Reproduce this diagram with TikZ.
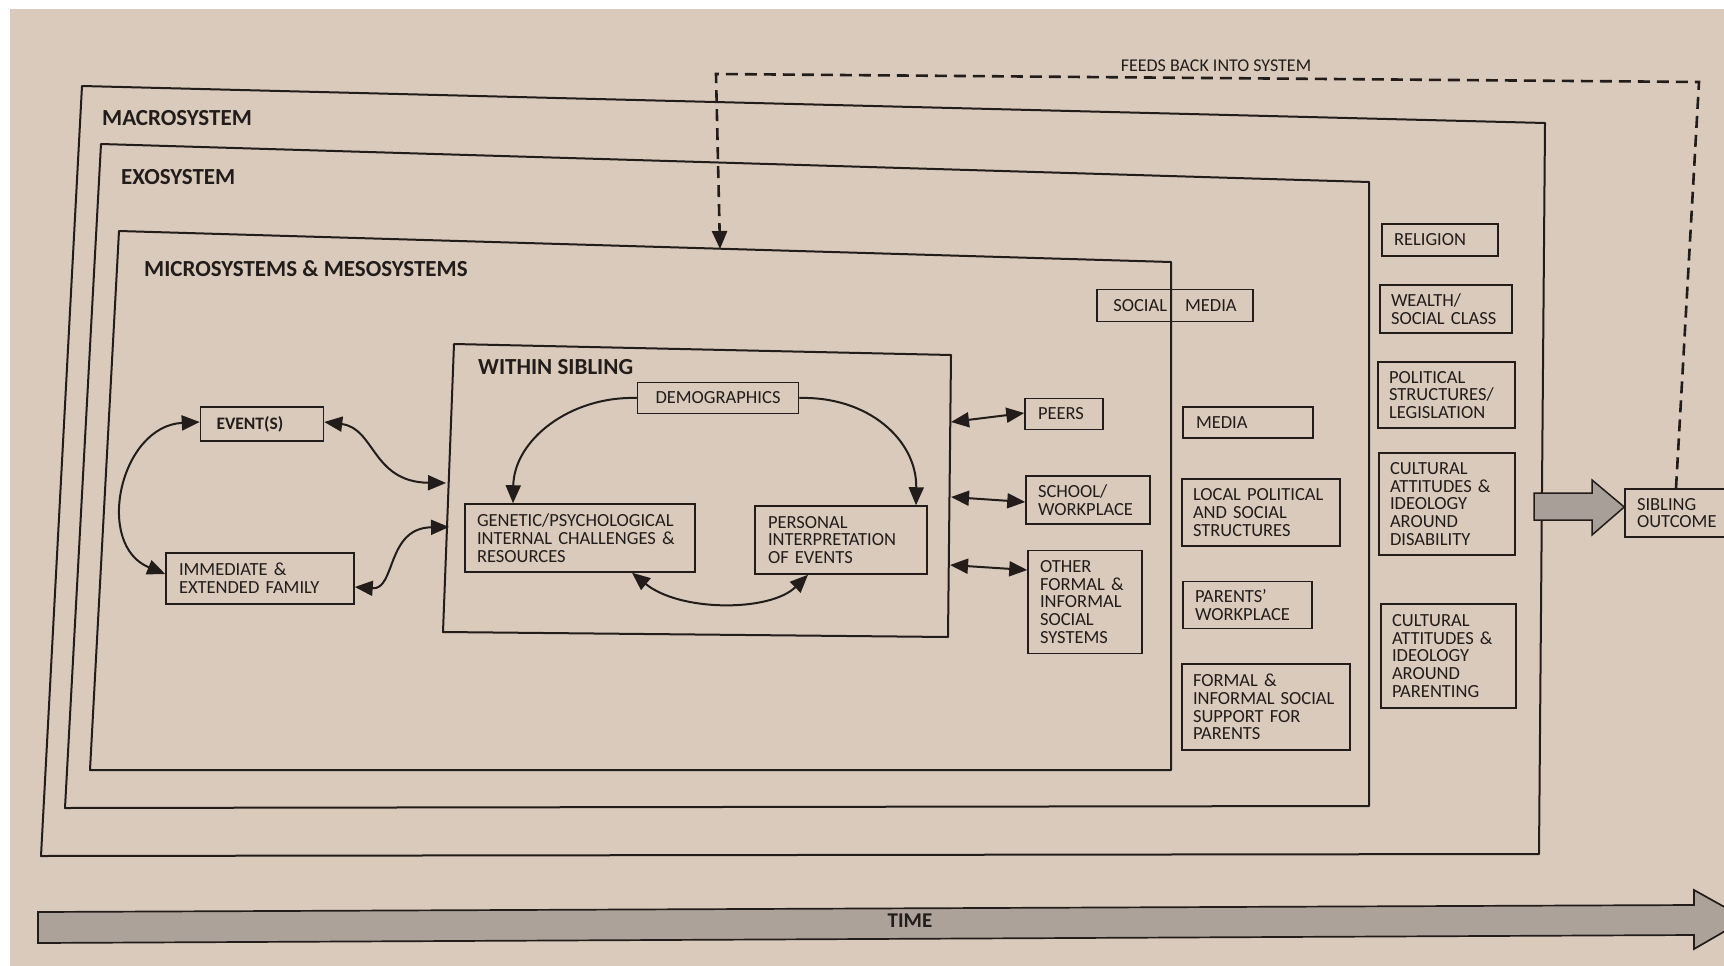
\documentclass[tikz,border=0pt]{standalone}
\usepackage{fontspec}
\setmainfont{Carlito}
\usetikzlibrary{arrows.meta}
\definecolor{bg}{RGB}{217,202,188}
\definecolor{ink}{RGB}{34,28,26}
\definecolor{blockgray}{RGB}{168,159,152}
\definecolor{timegray}{RGB}{172,162,154}
\begin{document}
\begin{tikzpicture}[x=1pt,y=-1pt,
  frame/.style={draw=ink, line width=2pt, line join=round},
  bx/.style={draw=ink, line width=1.5pt, align=left, inner xsep=12pt, inner ysep=2pt,
    font=\fontsize{18.5}{17.8}\selectfont, text=ink},
  lbl/.style={font=\bfseries\fontsize{23}{25}\selectfont, text=ink, anchor=west, inner sep=0pt},
  arr/.style={draw=ink, line width=2pt, {Triangle[length=18pt,width=15pt]}-{Triangle[length=18pt,width=15pt]}},
  arrone/.style={draw=ink, line width=2pt, -{Triangle[length=18pt,width=15pt]}},
  feedback/.style={draw=ink, line width=2.6pt, dash pattern=on 12pt off 7pt, -{Triangle[length=18pt,width=15pt]}}
]
\useasboundingbox (0,0) rectangle (1724,966);
\clip (0,0) rectangle (1724,966);
\fill[bg] (0,0) rectangle (1724,966);
\fill[white] (0,0) rectangle (10,966);
\fill[white] (0,0) rectangle (1724,9);

% system frames
\draw[frame] (82,86) -- (1545,123) -- (1539,854) -- (41,856) -- cycle;
\draw[frame] (101,144) -- (1369,182) -- (1369,806) -- (65,808) -- cycle;
\draw[frame] (119,231) -- (1171,262) -- (1171,770) -- (90,770) -- cycle;
\draw[frame] (454,344) -- (951,355) -- (948,637) -- (443,632) -- cycle;

\node[lbl] (macro) at (102,118) {MACROSYSTEM};
\node[lbl] (exo) at (121,177) {EXOSYSTEM};
\node[lbl] (micro) at (144,269) {MICROSYSTEMS \& MESOSYSTEMS};
\node[lbl] (within) at (478,367) {WITHIN SIBLING};

% frame anchor points
\coordinate (wsL1) at (446,483);
\coordinate (wsL2) at (449,527);
\coordinate (wsR1) at (951,422);
\coordinate (wsR2) at (951,497);
\coordinate (wsR3) at (950,565);
\coordinate (microTop) at (720,249);
\coordinate (fbA) at (1699,82);
\coordinate (fbB) at (716,74);

% boxes: microsystem left
\node[bx, text width=91pt, inner xsep=16pt, minimum height=34pt, font=\bfseries\fontsize{17.5}{17.8}\selectfont] (ev) at (262,424) {EVENT(S)};
\node[bx, text width=162pt, inner xsep=13pt, minimum height=51pt] (fam) at (260,578.5) {IMMEDIATE \&\\EXTENDED FAMILY};

% within sibling
\node[bx, align=center, minimum width=161pt, minimum height=31pt] (demo) at (718,398) {DEMOGRAPHICS};
\node[bx, text width=206pt, minimum height=68pt] (gen) at (580,538) {GENETIC/PSYCHOLOGICAL\\INTERNAL CHALLENGES \&\\RESOURCES};
\node[bx, text width=146pt, inner xsep=13pt, minimum height=68pt] (pers) at (841,540) {PERSONAL\\INTERPRETATION\\OF EVENTS};

% microsystem right
\node[bx, align=center, minimum width=156pt, minimum height=32pt] (sm) at (1175,305.5) {SOCIAL\hspace{18pt}MEDIA};
\node[bx, text width=52pt, inner xsep=13pt, minimum height=31pt] (peers) at (1064,414) {PEERS};
\node[bx, text width=100pt, minimum height=48pt] (school) at (1088,500) {SCHOOL/\\WORKPLACE};
\node[bx, text width=90pt, minimum height=103pt] (other) at (1085,602) {OTHER\\FORMAL \&\\INFORMAL\\SOCIAL\\SYSTEMS};

% exosystem
\node[bx, text width=104pt, inner xsep=13pt, minimum height=31pt] (media) at (1248,422.5) {MEDIA};
\node[bx, text width=136pt, inner xsep=11pt, minimum height=67pt] (local) at (1261,512.5) {LOCAL POLITICAL\\AND SOCIAL\\STRUCTURES};
\node[bx, text width=105pt, minimum height=47pt] (pwork) at (1247.5,605) {PARENTS’\\WORKPLACE};
\node[bx, text width=146pt, inner xsep=11pt, minimum height=86pt] (fsup) at (1266,707) {FORMAL \&\\INFORMAL SOCIAL\\SUPPORT FOR\\PARENTS};

% macrosystem
\node[bx, text width=92pt, minimum height=32pt] (rel) at (1440,240) {RELIGION};
\node[bx, text width=110pt, inner xsep=11pt, minimum height=48pt] (wealth) at (1446,309) {WEALTH/\\SOCIAL CLASS};
\node[bx, text width=115pt, inner xsep=11pt, minimum height=66pt] (pol) at (1446.5,395) {POLITICAL\\STRUCTURES/\\LEGISLATION};
\node[bx, text width=114pt, inner xsep=11pt, minimum height=102pt] (cdis) at (1447,504) {CULTURAL\\ATTITUDES \&\\IDEOLOGY\\AROUND\\DISABILITY};
\node[bx, text width=113pt, inner xsep=11pt, minimum height=104pt] (cpar) at (1448.5,656) {CULTURAL\\ATTITUDES \&\\IDEOLOGY\\AROUND\\PARENTING};

% outcome
\node[bx, text width=86pt, inner xsep=12pt, minimum height=48pt] (sib) at (1680,513) {SIBLING\\OUTCOME};

% block arrow to outcome
\draw[ink, line width=1.5pt, fill=blockgray, line join=miter]
  (1534,493) -- (1592,493) -- (1592,480) -- (sib.west |- 0,507) -- (1592,535) -- (1592,520) -- (1534,520) -- cycle;

% feedback
\draw[feedback] ([xshift=-4pt]sib.north) -- (fbA) -- (fbB) -- (microTop);
\node[font=\fontsize{18}{20}\selectfont, text=ink, inner sep=0pt] (fbl) at (1216,66) {FEEDS BACK INTO SYSTEM};

% connectors
\draw[arr] (ev.west |- 0,422) .. controls (120,426) and (94,545) .. (fam.west |- 0,574);
\draw[arr] (ev.east |- 0,422) .. controls (375,428) and (372,482) .. (wsL1);
\draw[arr] (fam.east |- 0,587) .. controls (396,590) and (386,528) .. (wsL2);
\draw[arrone] (demo.west) .. controls (570,396) and (514,440) .. (gen.north west -| 513,0);
\draw[arrone] (demo.east) .. controls (868,396) and (917,440) .. (pers.north west -| 916,0);
\draw[arr] (gen.south west -| 632,0) .. controls (680,612) and (770,612) .. (pers.south west -| 808,0);
\draw[arr] (wsR1) -- (peers.west |- 0,413);
\draw[arr] (wsR2) -- (school.west |- 0,502);
\draw[arr] (wsR3) -- (other.west |- 0,570);

% time arrow
\draw[ink, line width=1.7pt, fill=timegray, line join=miter]
  (38,912) -- (1694,905) -- (1694,890) -- (1746,919) -- (1694,949) -- (1694,935) -- (38,943) -- cycle;
\node[font=\bfseries\fontsize{21}{22}\selectfont, text=ink] (time) at (910,921) {TIME};
\end{tikzpicture}
\end{document}
